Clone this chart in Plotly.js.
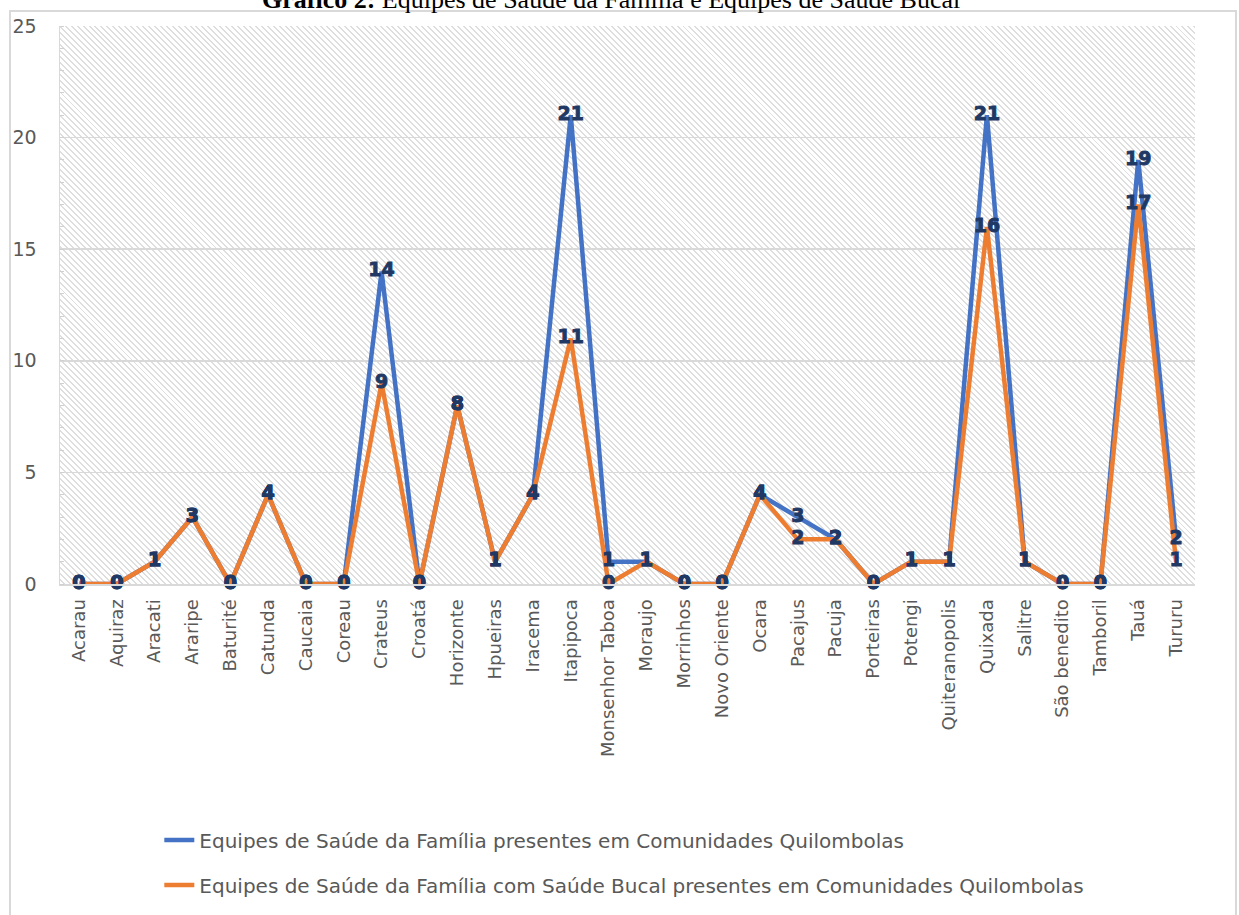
<!DOCTYPE html>
<html>
<head>
<meta charset="utf-8">
<script src="https://cdn.plot.ly/plotly-3.0.1.min.js"></script>
<style>
  html, body { margin:0; padding:0; background:#fff; width:1239px; height:915px; overflow:hidden; }
  #hatch { position:absolute; left:60px; top:26px; width:1135px; height:558px;
    background: repeating-linear-gradient(45deg, #ffffff 0px, #ffffff 2.8px, #dedede 2.8px, #dedede 4.2px); z-index:0; }
  #frame { position:absolute; left:9px; top:10px; width:1224px; height:920px; border:2px solid #d9d9d9; z-index:0; }
  #chart { position:absolute; left:0; top:0; width:1239px; height:915px; z-index:1; }
  .textpoint text { stroke:#1f3864 !important; stroke-width:0.9px !important; }
</style>
</head>
<body>
<div id="frame"></div>
<div id="hatch"></div>
<div id="chart"></div>
<script>
const categories = ["Acarau","Aquiraz","Aracati","Araripe","Baturité","Catunda","Caucaia","Coreau","Crateus","Croatá","Horizonte","Hpueiras","Iracema","Itapipoca","Monsenhor Taboa","Moraujo","Morrinhos","Novo Oriente","Ocara","Pacajus","Pacuja","Porteiras","Potengi","Quiteranopolis","Quixada","Salitre","São benedito","Tamboril","Tauá","Tururu"];
const esf = [0,0,1,3,0,4,0,0,14,0,8,1,4,21,1,1,0,0,4,3,2,0,1,1,21,1,0,0,19,2];
const esb = [0,0,1,3,0,4,0,0,9,0,8,1,4,11,0,1,0,0,4,2,2,0,1,1,16,1,0,0,17,1];
const seriesNames = ["Equipes de Saúde da Família presentes em Comunidades Quilombolas",
                     "Equipes de Saúde da Família com Saúde Bucal presentes em Comunidades Quilombolas"];
const yTicks = [0,5,10,15,20,25];
const titleText = "<b>Gráfico 2:</b> Equipes de Saúde da Família e Equipes de Saúde Bucal";

const labelFont = {family:"DejaVu Sans", size:19, color:"#1f3864", weight:"bold"};

const traces = [
  {x:categories, y:esf, name:seriesNames[0], mode:"lines", type:"scatter",
   line:{color:"#4472c4", width:4.5}, legendgroup:"a", cliponaxis:false, hoverinfo:"skip"},
  {x:categories, y:esb, name:seriesNames[1], mode:"lines", type:"scatter",
   line:{color:"#ed7d31", width:4.5}, legendgroup:"b", cliponaxis:false, hoverinfo:"skip"},
  {x:categories, y:esf, mode:"text", type:"scatter", text:esf.map(String), textposition:"middle center",
   textfont:labelFont, showlegend:false, cliponaxis:false, hoverinfo:"skip"},
  {x:categories, y:esb, mode:"text", type:"scatter", text:esb.map(String), textposition:"middle center",
   textfont:labelFont, showlegend:false, cliponaxis:false, hoverinfo:"skip"}
];

const layout = {
  width:1239, height:915,
  margin:{l:60, r:44, t:26, b:331, pad:0, autoexpand:false},
  paper_bgcolor:"rgba(0,0,0,0)",
  plot_bgcolor:"rgba(0,0,0,0)",
  showlegend:true,
  font:{family:"DejaVu Sans", color:"#595959"},
  xaxis:{type:"category", range:[-0.5, categories.length-0.5], autorange:false, automargin:false, showgrid:false, showline:true, linecolor:"#d9d9d9", linewidth:2,
    ticks:"", tickangle:-90, tickfont:{family:"DejaVu Sans", size:18, color:"#595959"},
    ticklabelstandoff:6, zeroline:false, fixedrange:true},
  yaxis:{range:[0,25], autorange:false, automargin:false, tickvals:yTicks, ticktext:yTicks.map(String), showgrid:true, gridcolor:"#d9d9d9", gridwidth:1.5,
    showline:true, linecolor:"#d9d9d9", linewidth:1.5, zeroline:false, ticks:"",
    tickfont:{family:"DejaVu Sans", size:19, color:"#595959"}, ticklabelstandoff:18,
    minor:{dtick:1, ticks:"inside", ticklen:4, tickcolor:"#d0d0d0", tickwidth:1, showgrid:false},
    fixedrange:true},
  legend:{orientation:"v", x:0.0875, xanchor:"left", y:-0.424, yanchor:"top",
    font:{family:"DejaVu Sans", size:20, color:"#595959"}, tracegroupgap:16,
    bgcolor:"rgba(0,0,0,0)", itemwidth:30},
  annotations:[{text:titleText, xref:"paper", yref:"paper", x:0.4855, y:1+27/558, xanchor:"center", yanchor:"middle",
    showarrow:false, font:{family:"Liberation Serif", size:26, color:"#000"}}]
};

Plotly.newPlot("chart", traces, layout, {displayModeBar:false, staticPlot:true});
</script>
</body>
</html>
